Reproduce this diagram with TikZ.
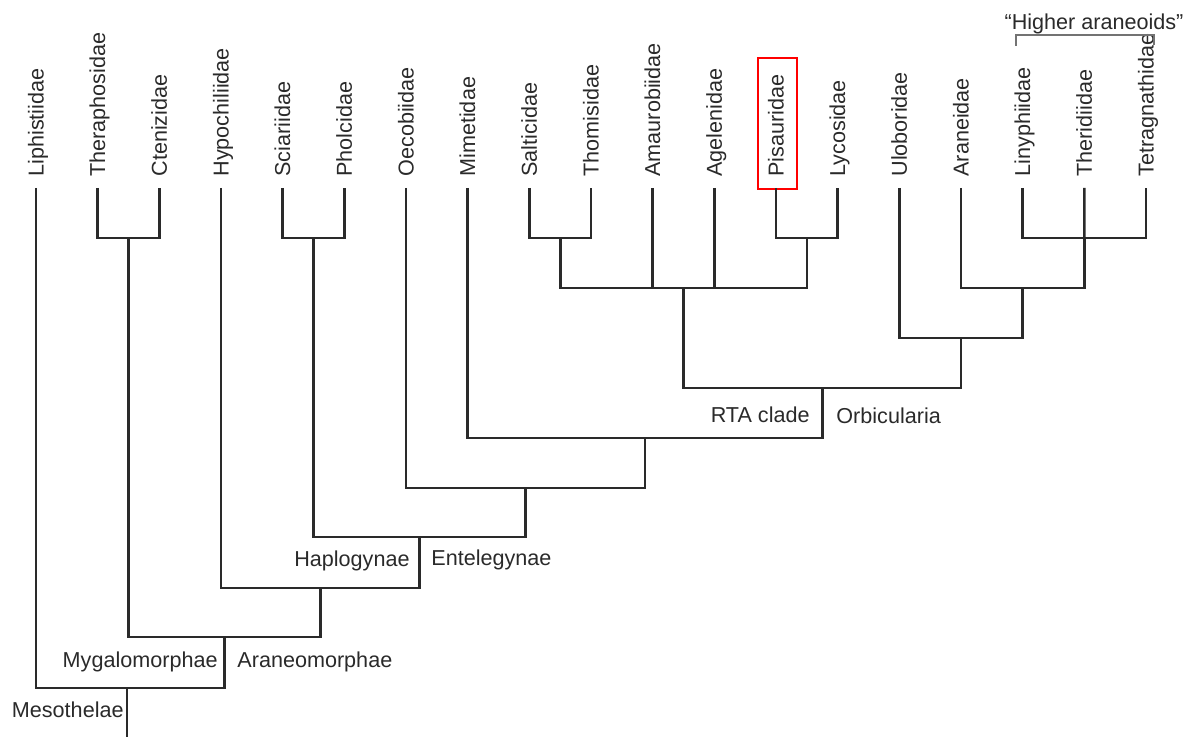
\documentclass[tikz,border=0pt]{standalone}
\usepackage{fontspec}
\setmainfont{Liberation Sans}
\usetikzlibrary{positioning,calc}
\definecolor{ink}{HTML}{2A2A2A}

\begin{document}
\begin{tikzpicture}[
    x=0.5pt, y=-0.5pt,
    every node/.style={font=\fontsize{10.8}{13}\selectfont, text=ink},
    taxon/.style={rotate=90, anchor=west, inner sep=0pt, text height=0.95em, text depth=0.2em},
    clade/.style={inner sep=0pt},
    branch/.style={draw=ink, line width=1.3pt},
    bracket/.style={draw=black!55, line width=0.65pt},
    hilite/.style={draw=red, line width=1pt, minimum width=19.5pt, minimum height=65.5pt},
]
    \useasboundingbox (0,0) rectangle (1195,737);

    % Taxa
    \foreach \name/\lab [count=\i from 0] in {liph/Liphistiidae, ther/Theraphosidae, cten/Ctenizidae,
        hypo/Hypochiliidae, scia/Sciariidae, phol/Pholcidae, oeco/Oecobiidae, mime/Mimetidae,
        salt/Salticidae, thom/Thomisidae, amau/Amaurobiidae, agel/Agelenidae, pisa/Pisauridae,
        lyco/Lycosidae, ulob/Uloboridae, aran/Araneidae, liny/Linyphiidae, theri/Theridiidae,
        tetr/Tetragnathidae} {
        \node[taxon] (\name) at ({36+61.67*\i},177) {\lab};
        \coordinate (\name-t) at ({36+61.67*\i},188);
    }

    % Highlight
    \node[hilite] (pisabox) at (777.5,123.5) {};

    % Internal nodes
    \coordinate (mygn) at (128.5,238);
    \coordinate (haplon) at (313.5,238);
    \coordinate (stn) at (560.2,238);
    \coordinate (pln) at (806.8,238);
    \coordinate (hara) at (1084.3,238);
    \coordinate (rta) at (683.5,288);
    \coordinate (arnd) at (1022.7,288);
    \coordinate (orb) at (961,338);
    \coordinate (rtaorb) at (822.2,388);
    \coordinate (mimn) at (645,438);
    \coordinate (oecn) at (525.5,488);
    \coordinate (ente) at (419.5,537);
    \coordinate (arneo) at (320.2,588);
    \coordinate (opis) at (224.4,637);
    \coordinate (root) at (127,688);
    \coordinate (base) at (127,737);

    % Branches
    \draw[branch] (root) -- (base);
    \draw[branch] (liph-t) |- (root) -| (opis);
    \draw[branch] (mygn) |- (opis) -| (arneo);
    \draw[branch] (ther-t) |- (mygn) -| (cten-t);
    \draw[branch] (hypo-t) |- (arneo) -| (ente);
    \draw[branch] (haplon) |- (ente) -| (oecn);
    \draw[branch] (scia-t) |- (haplon) -| (phol-t);
    \draw[branch] (oeco-t) |- (oecn) -| (mimn);
    \draw[branch] (mime-t) |- (mimn) -| (rtaorb);
    \draw[branch] (rta) |- (rtaorb) -| (orb);
    \draw[branch] (stn) |- (rta) -| (pln);
    \draw[branch] (amau-t) |- (rta);
    \draw[branch] (agel-t) |- (rta);
    \draw[branch] (salt-t) |- (stn) -| (thom-t);
    \draw[branch] (pisa-t) |- (pln) -| (lyco-t);
    \draw[branch] (ulob-t) |- (orb) -| (arnd);
    \draw[branch] (aran-t) |- (arnd) -| (hara);
    \draw[branch] (liny-t) |- (hara) -| (tetr-t);
    \draw[branch] (theri-t) -- (hara);

    % Clade labels
    \node[clade, anchor=base east] (meso) at (124,718) {Mesothelae};
    \node[clade, anchor=base east] (myga) at (218,668) {Mygalomorphae};
    \node[clade, anchor=base west] (arnm) at (237,668) {Araneomorphae};
    \node[clade, anchor=base east] (hapl) at (410,567) {Haplogynae};
    \node[clade, anchor=base west] (entl) at (431,566) {Entelegynae};
    \node[clade, anchor=base east] (rtal) at (810,423) {RTA clade};
    \node[clade, anchor=base west] (orbl) at (836,424) {Orbicularia};

    % Higher araneoids
    \node[clade, anchor=base] (hatext) at (1094,30) {“Higher araneoids”};
    \coordinate (hal) at (1016,46);
    \coordinate (har) at (1154,45);
    \draw[bracket] (hal) -- ++(0,-11) -| (har);
\end{tikzpicture}
\end{document}
